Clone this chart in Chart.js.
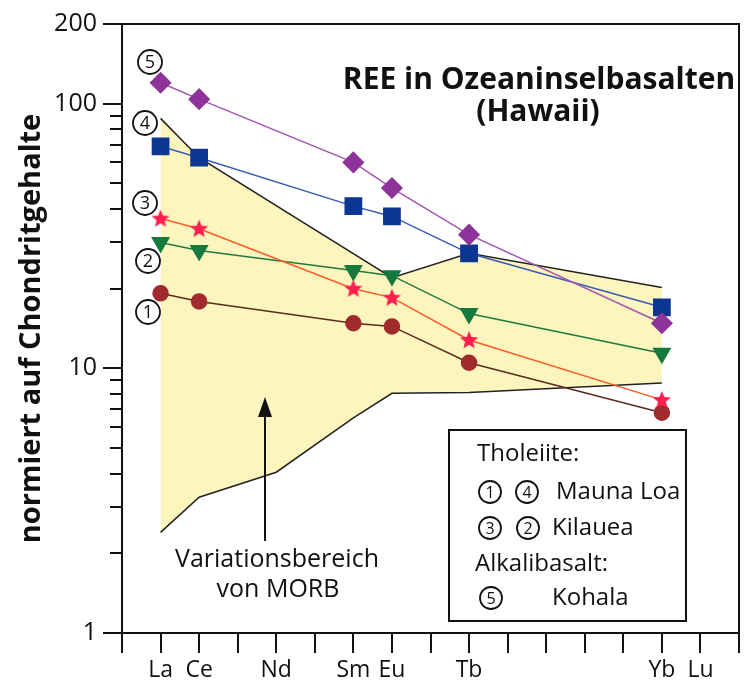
<!DOCTYPE html>
<html>
<head>
<meta charset="utf-8">
<script src="https://cdn.jsdelivr.net/npm/chart.js@4.4.1/dist/chart.umd.min.js"></script>
<style>
  html, body { margin: 0; padding: 0; background: #fff; }
  #wrap { width: 752px; height: 686px; }
</style>
</head>
<body>
<div id="wrap"><canvas id="myChart" width="752" height="686"></canvas></div>
<script>
// REE elements on the x axis (index = position)
const elements = ['La', 'Ce', 'Pr', 'Nd', 'Pm', 'Sm', 'Eu', 'Gd', 'Tb', 'Dy', 'Ho', 'Er', 'Tm', 'Yb', 'Lu'];
const shownLabels = ['La', 'Ce', 'Nd', 'Sm', 'Eu', 'Tb', 'Yb', 'Lu'];

// y ticks (log scale)
const yTicks = [1, 2, 3, 4, 5, 6, 7, 8, 9, 10, 20, 30, 40, 50, 60, 70, 80, 90, 100, 200];
const yLabels = [1, 10, 100, 200];

// samples, measured at these elements
const sampleElements = ['La', 'Ce', 'Sm', 'Eu', 'Tb', 'Yb'];
const kohala5 = [120, 104, 60, 48, 32, 14.8];
const maunaLoa4 = [69, 62.5, 41, 37.5, 27.2, 17];
const kilauea3 = [36.8, 33.7, 20, 18.5, 12.8, 7.6];
const kilauea2 = [29.9, 27.9, 23.4, 22.4, 16.1, 11.4];
const maunaLoa1 = [19.2, 17.9, 14.8, 14.4, 10.5, 6.8];

// MORB range
const morbUpperElements = ['La', 'Ce', 'Eu', 'Tb', 'Yb'];
const morbUpper = [88, 62.5, 22, 27.2, 20.2];
const morbLowerElements = ['La', 'Ce', 'Nd', 'Sm', 'Eu', 'Tb', 'Yb'];
const morbLower = [2.4, 3.26, 4.05, 6.5, 8.05, 8.1, 8.8];

function pts(els, vals) {
  return els.map((e, i) => ({ x: elements.indexOf(e), y: vals[i] }));
}

// filled 5 point star for the Kilauea (3) series
function makeStar(color) {
  const c = document.createElement('canvas');
  c.width = 20; c.height = 20;
  const g = c.getContext('2d');
  g.beginPath();
  for (let i = 0; i < 10; i++) {
    const r = i % 2 === 0 ? 9.5 : 4.2;
    const a = -Math.PI / 2 + i * Math.PI / 5;
    g.lineTo(10 + r * Math.cos(a), 10.5 + r * Math.sin(a));
  }
  g.closePath();
  g.fillStyle = color;
  g.fill();
  return c;
}
const starImg = makeStar('#ff1e4e');

const FONT = "'Open Sans', 'DejaVu Sans', sans-serif";

function circled(ctx, n, x, y, r, size) {
  ctx.beginPath();
  ctx.arc(x, y, r, 0, Math.PI * 2);
  ctx.lineWidth = 1.8;
  ctx.stroke();
  ctx.font = size + 'px ' + FONT;
  ctx.textAlign = 'center';
  ctx.textBaseline = 'middle';
  ctx.fillText(String(n), x, y + 1);
}

const decorations = {
  id: 'decorations',
  afterDraw(chart) {
    const { ctx, chartArea: a, scales: { y } } = chart;
    ctx.save();
    ctx.strokeStyle = '#111';
    ctx.lineWidth = 2;
    // top + right frame
    ctx.beginPath();
    ctx.moveTo(a.left, a.top);
    ctx.lineTo(a.right, a.top);
    ctx.lineTo(a.right, a.bottom);
    ctx.stroke();
    // y ticks, major longer
    ctx.beginPath();
    yTicks.forEach(v => {
      const py = Math.round(y.getPixelForValue(v));
      const len = yLabels.includes(v) ? 19 : 12;
      ctx.moveTo(a.left - len, py);
      ctx.lineTo(a.left, py);
    });
    ctx.stroke();

    ctx.fillStyle = '#111';
    // circled numbers next to the curves
    [[5, 150, 62], [4, 145, 123], [3, 145, 203], [2, 148, 261], [1, 148, 312]].forEach(([n, x, yy]) => {
      circled(ctx, n, x, yy, 12, 18);
    });

    // title
    ctx.textAlign = 'center';
    ctx.textBaseline = 'middle';
    ctx.font = 'bold 30px ' + FONT;
    ctx.fillText('REE in Ozeaninselbasalten', 539, 80);
    ctx.fillText('(Hawaii)', 538, 112);

    // MORB annotation + arrow
    ctx.font = '25px ' + FONT;
    ctx.fillText('Variationsbereich', 277, 560);
    ctx.fillText('von MORB', 278, 590);
    ctx.lineWidth = 2;
    ctx.beginPath();
    ctx.moveTo(265, 541);
    ctx.lineTo(265, 412);
    ctx.stroke();
    ctx.beginPath();
    ctx.moveTo(265, 397);
    ctx.lineTo(258, 417);
    ctx.lineTo(272, 417);
    ctx.closePath();
    ctx.fill();

    // legend box
    ctx.fillStyle = '#fff';
    ctx.fillRect(449, 430, 237, 191);
    ctx.strokeRect(449, 430, 237, 191);
    ctx.fillStyle = '#111';
    ctx.textAlign = 'left';
    ctx.font = '24px ' + FONT;
    ctx.fillText('Tholeiite:', 477, 454);
    ctx.fillText('Mauna Loa', 556, 492);
    ctx.fillText('Kilauea', 552, 528);
    ctx.fillText('Alkalibasalt:', 475, 564);
    ctx.fillText('Kohala', 552, 598);
    circled(ctx, 1, 490, 492, 11, 16);
    circled(ctx, 4, 527, 492, 11, 16);
    circled(ctx, 3, 490, 528, 11, 16);
    circled(ctx, 2, 528, 528, 11, 16);
    circled(ctx, 5, 491, 598, 11, 16);
    ctx.restore();
  }
};

const myChart = new Chart(document.getElementById('myChart').getContext('2d'), {
  type: 'line',
  data: {
    datasets: [
      {
        label: 'Kohala (5)',
        data: pts(sampleElements, kohala5),
        borderColor: '#a455b4', borderWidth: 1.5,
        pointStyle: 'rectRot', pointRadius: 10,
        pointBackgroundColor: '#8e3399', pointBorderColor: '#8e3399',
        order: 1
      },
      {
        label: 'Mauna Loa (4)',
        data: pts(sampleElements, maunaLoa4),
        borderColor: '#3a5bb0', borderWidth: 1.5,
        pointStyle: 'rect', pointRadius: 11.5,
        pointBackgroundColor: '#0d3592', pointBorderColor: '#0d3592',
        order: 2
      },
      {
        label: 'Kilauea (3)',
        data: pts(sampleElements, kilauea3),
        borderColor: '#ff5a2a', borderWidth: 1.5,
        pointStyle: starImg,
        order: 3
      },
      {
        label: 'Kilauea (2)',
        data: pts(sampleElements, kilauea2),
        borderColor: '#1f7a3c', borderWidth: 1.5,
        pointStyle: 'triangle', rotation: 180, pointRadius: 9.5,
        pointBackgroundColor: '#167a3e', pointBorderColor: '#167a3e',
        order: 4
      },
      {
        label: 'Mauna Loa (1)',
        data: pts(sampleElements, maunaLoa1),
        borderColor: '#5a2a20', borderWidth: 1.5,
        pointStyle: 'circle', pointRadius: 7.5,
        pointBackgroundColor: '#a02a2c', pointBorderColor: '#a02a2c',
        order: 5
      },
      {
        label: 'MORB oben',
        data: pts(morbUpperElements, morbUpper),
        borderColor: '#222', borderWidth: 1.5,
        pointRadius: 0,
        fill: '+1',
        backgroundColor: 'rgba(253,245,190,1)',
        order: 6
      },
      {
        label: 'MORB unten',
        data: pts(morbLowerElements, morbLower),
        borderColor: '#222', borderWidth: 1.5,
        pointRadius: 0,
        fill: false,
        order: 7
      }
    ]
  },
  options: {
    responsive: false,
    animation: false,
    layout: { padding: { top: 24, right: 3, left: 0, bottom: 0 } },
    plugins: {
      legend: { display: false },
      tooltip: { enabled: false },
      filler: { drawTime: 'beforeDatasetsDraw' }
    },
    scales: {
      x: {
        type: 'linear',
        min: -1, max: 15,
        afterFit: s => { s.height = 53; },
        afterBuildTicks: s => { s.ticks = elements.map((e, i) => ({ value: i })).concat([{ value: -1 }, { value: 15 }]); },
        ticks: {
          autoSkip: false,
          maxRotation: 0,
          padding: 4,
          color: '#111',
          font: { family: FONT, size: 23 },
          callback: v => (shownLabels.includes(elements[v]) ? elements[v] : '')
        },
        grid: { drawOnChartArea: false, tickLength: 20, color: '#111', lineWidth: 2 },
        border: { color: '#111', width: 2 }
      },
      y: {
        type: 'logarithmic',
        min: 1, max: 200,
        afterFit: s => { s.width = 122; s.paddingTop = 0; s.paddingBottom = 0; },
        afterBuildTicks: s => { s.ticks = yTicks.map(v => ({ value: v })); },
        ticks: {
          autoSkip: false,
          padding: 25,
          color: '#111',
          font: { family: FONT, size: 25, lineHeight: 1 },
          callback: v => (yLabels.includes(v) ? String(v) : '')
        },
        grid: { drawOnChartArea: false, drawTicks: false },
        border: { color: '#111', width: 2 },
        title: {
          display: true,
          text: 'normiert auf Chondritgehalte',
          color: '#111',
          font: { family: FONT, size: 29, weight: 'bold', lineHeight: 1 },
          padding: { top: 17, bottom: 0 }
        }
      }
    }
  },
  plugins: [decorations]
});
</script>
</body>
</html>
